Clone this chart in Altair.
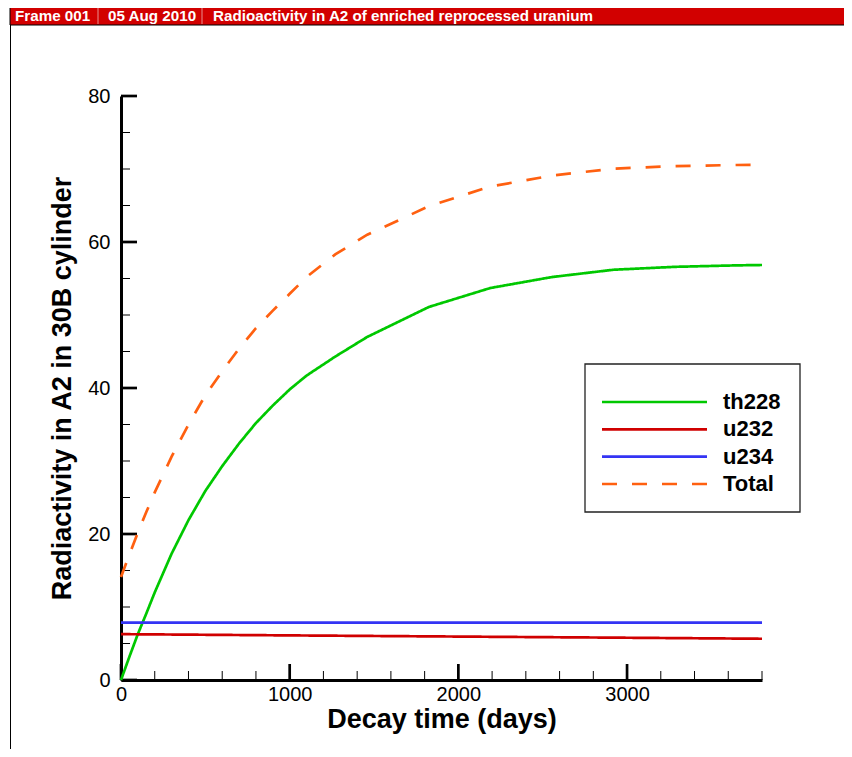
import altair as alt
import pandas as pd

# ---------------- data ----------------
header_texts = ["Frame 001", "05 Aug 2010", "Radioactivity in A2 of enriched reprocessed uranium"]
x_title = "Decay time (days)"
y_title = "Radiactivity in A2 in 30B cylinder"

series_names = ["th228", "u232", "u234", "Total"]
series_colors = ["#00C800", "#D00000", "#3434F4", "#FF6010"]
series_dash = [[1, 0], [1, 0], [1, 0], [15, 15]]

days = [0, 50, 100, 150, 200, 300, 400, 500, 600, 700, 800, 900, 1000, 1100,
        1270, 1460, 1825, 2190, 2555, 2920, 3285, 3650, 3800]
th228 = [0.0, 3.2, 6.3, 9.1, 12.0, 17.3, 21.9, 25.9, 29.3, 32.4, 35.2, 37.6, 39.8, 41.7,
         44.3, 47.0, 51.1, 53.7, 55.2, 56.2, 56.6, 56.8, 56.85]
total = [14.1, 17.2, 20.2, 23.0, 25.7, 30.6, 35.0, 39.0, 42.3, 45.4, 48.2, 50.6, 52.9, 55.2,
         58.3, 61.0, 64.9, 67.6, 69.1, 70.05, 70.4, 70.55, 70.6]
u232_days = [0, 1000, 2000, 3000, 3800]
u232 = [6.28, 6.11, 5.95, 5.79, 5.65]
u234_days = [0, 1000, 2000, 3000, 3800]
u234 = [7.86, 7.86, 7.86, 7.86, 7.86]

x_major = [0, 1000, 2000, 3000]
x_minor = [200, 400, 600, 800, 1200, 1400, 1600, 1800, 2200, 2400, 2600, 2800,
           3200, 3400, 3600, 3800]
y_major = [0, 20, 40, 60, 80]
y_minor = [5, 10, 15, 25, 30, 35, 45, 50, 55, 65, 70, 75]

# ---------------- tables ----------------
rows = []
for d, v in zip(days, th228):
    rows.append({"days": d, "value": v, "series": "th228"})
for d, v in zip(u232_days, u232):
    rows.append({"days": d, "value": v, "series": "u232"})
for d, v in zip(u234_days, u234):
    rows.append({"days": d, "value": v, "series": "u234"})
for d, v in zip(days, total):
    rows.append({"days": d, "value": v, "series": "Total"})
df = pd.DataFrame(rows)

W, H = 641, 584
FONT = "Liberation Sans"

cscale = alt.Scale(domain=series_names, range=series_colors)
dscale = alt.Scale(domain=series_names, range=series_dash)
xscale = alt.Scale(domain=[0, 3800], nice=False, zero=False)
yscale = alt.Scale(domain=[0, 80], nice=False)

lines = alt.Chart(df).mark_line(strokeWidth=2.7).encode(
    x=alt.X("days:Q", scale=xscale,
            axis=alt.Axis(values=x_major, format="d", title=x_title, ticks=False, grid=False,
                          labelFlush=False, labelFontSize=20, labelPadding=4,
                          titleFontSize=27, titleFontWeight="bold", titlePadding=2,
                          domainWidth=3, domainColor="black", labelColor="black",
                          titleColor="black", labelFont=FONT, titleFont=FONT)),
    y=alt.Y("value:Q", scale=yscale,
            axis=alt.Axis(values=y_major, format="d", title=y_title, ticks=False, grid=False,
                          labelFlush=False, labelFontSize=20, labelPadding=11,
                          titleFontSize=27, titleFontWeight="bold", titlePadding=11,
                          domainWidth=3, domainColor="black", labelColor="black",
                          titleColor="black", labelFont=FONT, titleFont=FONT)),
    color=alt.Color("series:N", scale=cscale, legend=None),
    strokeDash=alt.StrokeDash("series:N", scale=dscale, legend=None),
)

xmaj = alt.Chart(pd.DataFrame({"days": x_major})).mark_rule(color="black", strokeWidth=2.7).encode(
    x=alt.X("days:Q"), y=alt.value(H), y2=alt.value(H - 16))
xmin = alt.Chart(pd.DataFrame({"days": x_minor})).mark_rule(color="black", strokeWidth=1).encode(
    x=alt.X("days:Q"), y=alt.value(H), y2=alt.value(H - 9))
ymaj = alt.Chart(pd.DataFrame({"value": y_major})).mark_rule(color="black", strokeWidth=2.7).encode(
    y=alt.Y("value:Q"), x=alt.value(0), x2=alt.value(16))
ymin = alt.Chart(pd.DataFrame({"value": y_minor})).mark_rule(color="black", strokeWidth=1).encode(
    y=alt.Y("value:Q"), x=alt.value(0), x2=alt.value(9))

main = alt.layer(xmin, xmaj, ymin, ymaj, lines)

# ---------------- legend ----------------
one = pd.DataFrame({"a": [0]})
legend_df = pd.DataFrame({"series": series_names})
ly = alt.Y("series:N", scale=alt.Scale(type="point", domain=series_names, range=[306, 388], padding=0),
           axis=None)
box = alt.Chart(one).mark_rect(fill="white", stroke="#222222", strokeWidth=1.3).encode(
    x=alt.value(464), x2=alt.value(679), y=alt.value(268), y2=alt.value(416))
lrule = alt.Chart(legend_df).mark_rule(strokeWidth=2.7).encode(
    x=alt.value(481), x2=alt.value(586), y=ly,
    color=alt.Color("series:N", scale=cscale, legend=None),
    strokeDash=alt.StrokeDash("series:N", scale=dscale, legend=None))
ltext = alt.Chart(legend_df).mark_text(align="left", baseline="middle", fontSize=22,
                                       fontWeight="bold", font=FONT, color="black").encode(
    x=alt.value(602), y=ly, text="series:N")

# ---------------- header / frame ----------------
hdr = alt.Chart(one).mark_rect(fill="#D20000", stroke="black", strokeWidth=1).encode(
    x=alt.value(-111), x2=alt.value(730), y=alt.value(-91), y2=alt.value(-71))
sep1 = alt.Chart(one).mark_rule(color="#E89090", strokeWidth=1).encode(
    x=alt.value(-23), y=alt.value(-90), y2=alt.value(-72))
sep2 = alt.Chart(one).mark_rule(color="#E89090", strokeWidth=1).encode(
    x=alt.value(81), y=alt.value(-90), y2=alt.value(-72))
frame = alt.Chart(one).mark_rule(color="black", strokeWidth=1).encode(
    x=alt.value(-110.5), y=alt.value(-71), y2=alt.value(660))
htexts = []
for txt, xp in zip(header_texts, [-106, -13, 92]):
    htexts.append(alt.Chart(one).mark_text(text=txt, align="left", baseline="middle", fontSize=15.2,
                                           fontWeight="bold", font=FONT, color="white").encode(
        x=alt.value(xp), y=alt.value(-80.5)))

deco = alt.layer(hdr, sep1, sep2, frame, *htexts, box, lrule, ltext)

chart = alt.layer(main, deco).resolve_scale(y="independent").properties(
    width=W, height=H,
    autosize=alt.AutoSizeParams(type="none"),
    padding={"left": 113, "top": 88, "right": 82, "bottom": 69},
).configure_view(stroke=None)

chart.save("out.html", embed_options={"renderer": "svg", "actions": False})
